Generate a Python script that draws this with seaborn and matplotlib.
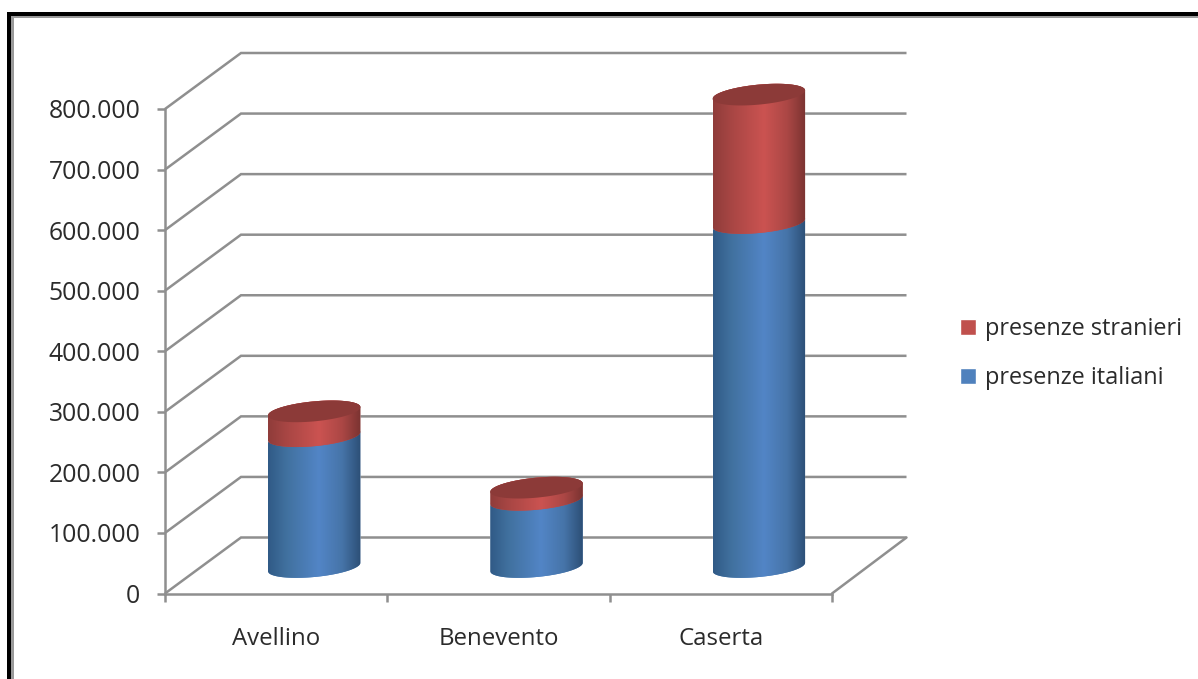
import numpy as np
import pandas as pd
import matplotlib
matplotlib.use("Agg")
import matplotlib.pyplot as plt
import seaborn as sns
from matplotlib.colors import LinearSegmentedColormap
from matplotlib.patches import Patch, PathPatch, Rectangle
from matplotlib.path import Path
from matplotlib.ticker import FuncFormatter

categories = ["Avellino", "Benevento", "Caserta"]
presenze_italiani = [216000, 111000, 568000]
presenze_stranieri = [41000, 20000, 212000]
y_ticks = [0, 100000, 200000, 300000, 400000, 500000, 600000, 700000, 800000]
series_labels = ["presenze stranieri", "presenze italiani"]

W, H = 1198, 679
sns.set_theme(style="white")
plt.rcParams["font.family"] = ["Open Sans", "DejaVu Sans"]
TEXT = "#2b2b2b"
GRID = "#8f8f8f"
LW = 1.8

fig = plt.figure(figsize=(W / 100, H / 100), dpi=100, facecolor="white")
L, R_, B, T = 165, 832, 593.5, 109
ax = fig.add_axes([L / W, 1 - B / H, (R_ - L) / W, (B - T) / H])
ax.patch.set_alpha(0)

df = pd.DataFrame({"provincia": categories, "italiani": presenze_italiani,
                   "stranieri": presenze_stranieri})
df["totale"] = df["italiani"] + df["stranieri"]

BAR_W = 92.5 / 222.33
sns.barplot(data=df, x="provincia", y="totale", color="#c0504d", saturation=1,
            width=BAR_W, ax=ax, zorder=3)
sns.barplot(data=df, x="provincia", y="italiani", color="#4f81bd", saturation=1,
            width=BAR_W, ax=ax, zorder=3)
ax.set_xlim(-0.5, 2.5)
ax.set_ylim(0, 800000)

# pixel-to-data conversions for the pseudo-3D depth
px_y = 800000 / (B - T)
px_x = 3 / (R_ - L)
dx, dy = 76 * px_x, 56 * px_y
right_dx = 74.5 * px_x
base_dx, base_dy = 38 * px_x, 26.5 * px_y
shear, semi = 4.2 * px_y, 10.0 * px_y

# back wall and floor
for v in y_ticks:
    ax.plot([-0.5, -0.5 + dx, 2.5 + right_dx], [v, v + dy, v + dy], color=GRID, lw=LW,
            clip_on=False, zorder=1, solid_joinstyle="miter", solid_capstyle="butt")
ax.plot([2.5, 2.5 + right_dx], [0, dy], color=GRID, lw=LW, clip_on=False, zorder=1)

cmap_blue = LinearSegmentedColormap.from_list(
    "b", [(0, "#305a86"), (0.2, "#41719f"), (0.55, "#5285c6"), (0.8, "#4674a8"), (1, "#2c4f76")])
cmap_red = LinearSegmentedColormap.from_list(
    "r", [(0, "#8f3c3a"), (0.2, "#a84644"), (0.55, "#cb5351"), (0.8, "#ab4745"), (1, "#7a3331")])


def ring(cx, half, y, t):
    return np.c_[cx + half * np.cos(t), y + shear * np.cos(t) + semi * np.sin(t)]


def body(cx, half, y0, y1):
    front = ring(cx, half, y0, np.linspace(np.pi, 2 * np.pi, 60))
    back = ring(cx, half, y1, np.linspace(0, np.pi, 60))
    v = np.vstack([front, back, front[:1]])
    return Path(v)


gradient = np.linspace(0, 1, 256)[None, :]
bars = list(ax.patches)
n = len(categories)
segments = [(bars[n:], cmap_blue, 4), (bars[:n], cmap_red, 5)]
for group, cmap, z in segments:
    for i, bar in enumerate(group):
        bar.set_x(bar.get_x() + base_dx)
        cx = bar.get_x() + bar.get_width() / 2
        half = bar.get_width() / 2
        italian = presenze_italiani[i]
        y0 = base_dy + (italian if cmap is cmap_red else 0)
        y1 = base_dy + bar.get_height()
        sil = body(cx, half, y0, y1)
        bar.set_y(y0 - 2 * semi)
        bar.set_height(y1 - y0 + 4 * semi)
        bar.set_clip_box(fig.bbox)
        bar.set_clip_path(sil, ax.transData)
        bar.set_zorder(z - 0.5)
        im = ax.imshow(gradient, cmap=cmap, vmin=0, vmax=1, aspect="auto",
                       extent=(cx - half, cx + half, y0 - 2 * semi, y1 + 2 * semi),
                       interpolation="bilinear", zorder=z)
        im.set_clip_box(fig.bbox)
        im.set_clip_path(sil, ax.transData)
        if cmap is cmap_red:
            t = np.linspace(0, 2 * np.pi, 120)
            ax.add_patch(PathPatch(Path(ring(cx, half, y1, t)), facecolor="#8c3a38",
                                   edgecolor="none", clip_on=False, zorder=z + 1))
ax.set_xlim(-0.5, 2.5)
ax.set_ylim(0, 800000)

# axes styling
sns.despine(ax=ax, top=True, right=True)
for s in ("left", "bottom"):
    ax.spines[s].set_color(GRID)
    ax.spines[s].set_linewidth(LW)
    ax.spines[s].set_zorder(2)
ax.set_xlabel("")
ax.set_ylabel("")
ax.set_yticks(y_ticks)
ax.yaxis.set_major_formatter(FuncFormatter(lambda v, _: f"{int(v):,}".replace(",", ".")))
ax.set_xticks([-0.5, 0.5, 1.5, 2.5], labels=[])
ax.set_xticks([0, 1, 2], labels=categories, minor=True)
ax.tick_params(axis="y", length=5.8, width=LW, color=GRID, left=True, pad=12,
               labelsize=17.8, labelcolor=TEXT)
ax.tick_params(axis="x", which="major", length=6, width=LW, color=GRID, bottom=True)
ax.tick_params(axis="x", which="minor", length=0, pad=24, labelsize=17.3, labelcolor=TEXT, bottom=True)

handles = [Patch(facecolor="#c0504d"), Patch(facecolor="#4f81bd")]
ax.legend(handles, series_labels, loc="center left", bbox_to_anchor=(960 / W, 1 - 353.5 / H),
          bbox_transform=fig.transFigure, frameon=False, fontsize=16.9,
          handlelength=0.68, handleheight=0.68, handletextpad=0.38, labelspacing=1.06,
          labelcolor=TEXT, borderpad=0, borderaxespad=0)

# outer picture frame
fig.add_artist(Rectangle((7 / W, 1 - 17 / H), (W - 7) / W, 5 / H, transform=fig.transFigure,
                         facecolor="black", edgecolor="none"))
fig.add_artist(Rectangle((7 / W, 0), 4 / W, 1 - 12 / H, transform=fig.transFigure,
                         facecolor="black", edgecolor="none"))
fig.add_artist(Rectangle((11 / W, 1 - 18 / H), (W - 11) / W, 2 / H, transform=fig.transFigure,
                         facecolor="#9a9a9a", edgecolor="none"))
fig.add_artist(Rectangle((11 / W, 0), 3 / W, 1 - 16 / H, transform=fig.transFigure,
                         facecolor="#9a9a9a", edgecolor="none"))

fig.savefig("out.png", dpi=100, facecolor="white")
